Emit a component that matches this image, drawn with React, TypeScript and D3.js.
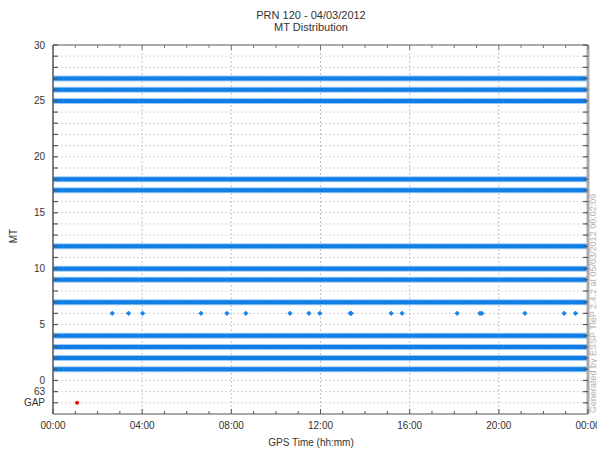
import React from "react";
import * as d3 from "d3";

// MT values that are present continuously over the whole day
const continuousMT = [1, 2, 3, 4, 7, 9, 10, 12, 17, 18, 25, 26, 27];
// sporadic MT 6 messages (hours of day)
const mt6Hours = [
  2.66, 3.39, 4.02, 6.64, 7.8, 8.65, 10.63, 11.48, 11.97, 13.33, 13.38,
  15.17, 15.66, 18.13, 19.15, 19.24, 21.17, 22.93, 23.44,
];
// GAP occurrences (hours of day)
const gapHours = [1.08];
const xTickLabels = ["00:00", "04:00", "08:00", "12:00", "16:00", "20:00", "00:00"];
const yLabels: [number, string][] = [
  [30, "30"], [25, "25"], [20, "20"], [15, "15"], [10, "10"], [5, "5"],
  [0, "0"], [-1, "63"], [-2, "GAP"],
];

export default function App() {
  const width = 597;
  const height = 451;
  const margin = { top: 45, left: 53, right: 9, bottom: 37 };
  const iw = width - margin.left - margin.right;
  const ih = height - margin.top - margin.bottom;

  const x = d3.scaleLinear().domain([0, 24]).range([0, iw]);
  const y = d3.scaleLinear().domain([-3, 30]).range([ih, 0]);

  const font = "'Liberation Sans', Arial, sans-serif";
  const txt = "#333";
  const hours = d3.range(0, 25);
  const units = d3.range(-2, 31);
  const marker = d3.symbol().type(d3.symbolSquare).size(14)();

  return (
    <svg
      width={width}
      height={height}
      style={{ position: "absolute", left: 0, top: 0, background: "#fff" }}
      fontFamily={font}
    >
      <text x={311} y={19} textAnchor="middle" fontSize={11} fill={txt}>
        PRN 120 - 04/03/2012
      </text>
      <text x={311} y={31} textAnchor="middle" fontSize={11} fill={txt}>
        MT Distribution
      </text>

      <g transform={`translate(${margin.left},${margin.top})`}>
        {/* horizontal grid */}
        {units.filter(u => u < 30).map(u => (
          <line key={"hg" + u} x1={0} x2={iw} y1={y(u)} y2={y(u)}
            stroke="#c4c4c4" strokeWidth={1} strokeDasharray="1.5,2.5" />
        ))}
        {/* vertical grid */}
        {[4, 8, 12, 16, 20].map(h => (
          <line key={"vg" + h} x1={x(h)} x2={x(h)} y1={0} y2={ih}
            stroke="#c4c4c4" strokeWidth={1} strokeDasharray="2,2" />
        ))}

        {/* continuous MT bands */}
        {continuousMT.map(m => (
          <g key={"mt" + m}>
            <line x1={x(0)} x2={x(24)} y1={y(m)} y2={y(m)} stroke="#9ccbf5" strokeWidth={6} />
            <line x1={x(0)} x2={x(24)} y1={y(m)} y2={y(m)} stroke="#0f7de6" strokeWidth={4} />
            <line x1={x(0)} x2={x(24)} y1={y(m)} y2={y(m)} stroke="#2f8eea" strokeWidth={1}
              strokeDasharray="1,4" />
          </g>
        ))}

        {/* MT 6 points */}
        {mt6Hours.map((h, i) => (
          <path key={"p6" + i} d={marker || ""}
            transform={`translate(${x(h)},${y(6)}) rotate(45)`} fill="#1a84ea" />
        ))}

        {/* GAP points */}
        {gapHours.map((h, i) => (
          <circle key={"gap" + i} cx={x(h)} cy={y(-2)} r={2} fill="#f01010" />
        ))}

        {/* axes frame */}
        <line x1={0} x2={iw} y1={0} y2={0} stroke="#555" strokeWidth={1} />
        <line x1={0} x2={iw} y1={ih} y2={ih} stroke="#555" strokeWidth={1.2} />
        <line x1={0} x2={0} y1={0} y2={ih} stroke="#555" strokeWidth={1.5} />
        <line x1={iw} x2={iw} y1={0} y2={ih} stroke="#aaa" strokeWidth={3} />

        {/* x ticks (top and bottom, inward) */}
        {hours.map(h => {
          const len = h % 4 === 0 ? 5 : 3;
          return (
            <g key={"xt" + h}>
              <line x1={x(h)} x2={x(h)} y1={ih} y2={ih - len} stroke="#555" />
              <line x1={x(h)} x2={x(h)} y1={0} y2={len} stroke="#777" />
            </g>
          );
        })}
        {/* y ticks (left and right, inward) */}
        {units.map(u => (
          <g key={"yt" + u}>
            <line x1={0} x2={5} y1={y(u)} y2={y(u)} stroke="#555" strokeWidth={1.2} />
            <line x1={iw} x2={iw - 5} y1={y(u)} y2={y(u)} stroke="#555" strokeWidth={1.2} />
          </g>
        ))}

        {/* x tick labels */}
        {xTickLabels.map((l, i) => (
          <text key={"xl" + i} x={x(i * 4)} y={ih + 15} textAnchor="middle" fontSize={10} fill={txt}>
            {l}
          </text>
        ))}
        {/* y tick labels */}
        {yLabels.map(([v, l]) => (
          <text key={"yl" + l} x={-8} y={y(v) + 3.5} textAnchor="end" fontSize={10} fill={txt}>
            {l}
          </text>
        ))}
      </g>

      <text x={311} y={446} textAnchor="middle" fontSize={10} fill={txt}>
        GPS Time (hh:mm)
      </text>
      <text transform="translate(17,236) rotate(-90)" textAnchor="middle" fontSize={10} fill={txt}>
        MT
      </text>
      <text transform="translate(596,413) rotate(-90)" textAnchor="start" fontSize={9} fill="#b0b0b0">
        Generated by ESSP TleP 2.4.2 at 05/03/2012 00:02:09
      </text>
    </svg>
  );
}
